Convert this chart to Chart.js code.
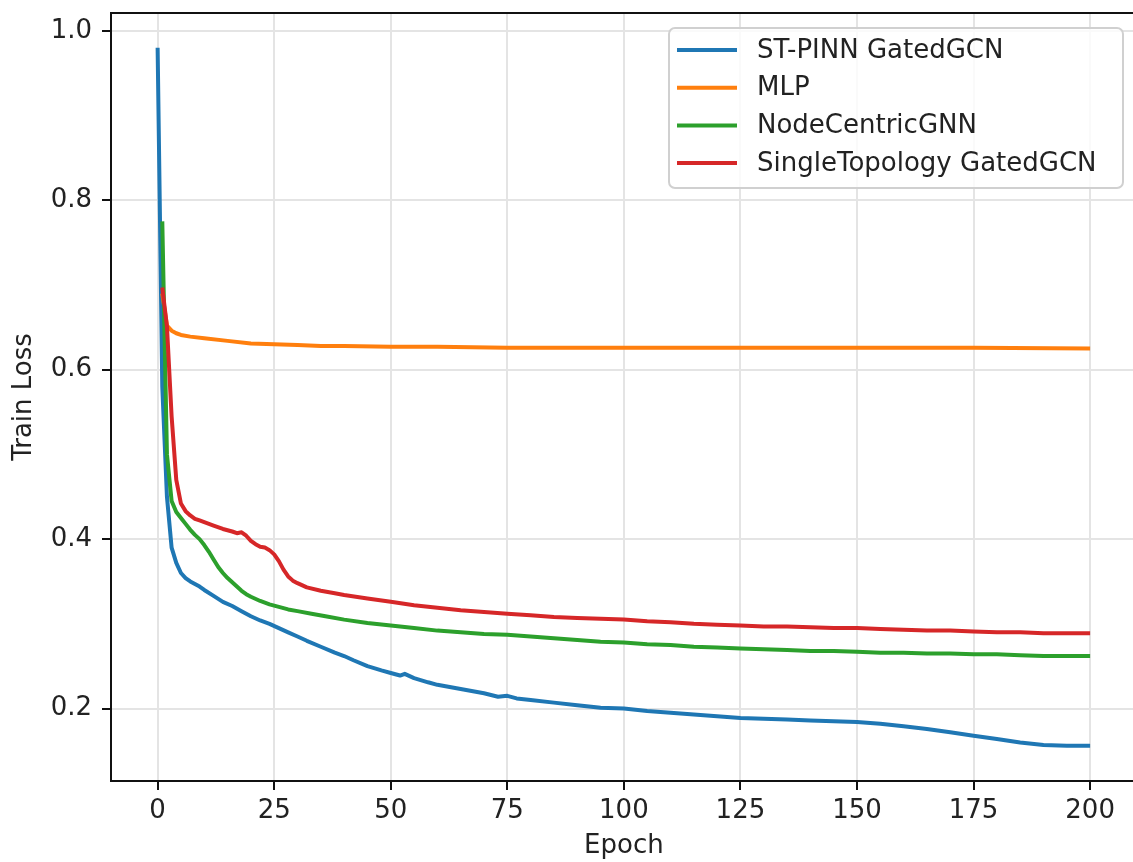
<!DOCTYPE html>
<html>
<head>
<meta charset="utf-8">
<title>Train Loss</title>
<script src="https://cdn.jsdelivr.net/npm/chart.js@4"></script>
<style>
  html, body { margin: 0; padding: 0; background: #fff; overflow: hidden; }
  #chart { display: block; }
</style>
</head>
<body>
<canvas id="chart" width="1133" height="862"></canvas>
<script>
// values
const seriesNames = ['ST-PINN GatedGCN', 'MLP', 'NodeCentricGNN', 'SingleTopology GatedGCN'];
const seriesColors = ['#1f77b4', '#ff7f0e', '#2ca02c', '#d62728'];

const xTicks = [0, 25, 50, 75, 100, 125, 150, 175, 200];
const yTicks = [0.2, 0.4, 0.6, 0.8, 1.0];

const stpinnEpochs = [0, 1, 2, 3, 4, 5, 6, 7, 8, 9, 10, 12, 14, 16, 18, 20, 22, 24, 26, 28, 30, 32, 35, 38, 40, 42, 45, 48, 50, 52, 53, 55, 58, 60, 65, 70, 73, 75, 77, 80, 85, 90, 95, 100, 105, 110, 115, 120, 125, 130, 135, 140, 145, 150, 155, 160, 165, 170, 175, 180, 185, 190, 195, 200];
const stpinnLoss = [0.980, 0.580, 0.450, 0.390, 0.372, 0.360, 0.354, 0.350, 0.347, 0.344, 0.340, 0.333, 0.326, 0.321, 0.315, 0.309, 0.304, 0.300, 0.295, 0.290, 0.285, 0.280, 0.273, 0.266, 0.262, 0.257, 0.250, 0.245, 0.242, 0.239, 0.241, 0.236, 0.231, 0.228, 0.223, 0.218, 0.214, 0.215, 0.212, 0.210, 0.207, 0.204, 0.201, 0.200, 0.197, 0.195, 0.193, 0.191, 0.189, 0.188, 0.187, 0.186, 0.185, 0.184, 0.182, 0.179, 0.176, 0.172, 0.168, 0.164, 0.160, 0.157, 0.156, 0.156];

const mlpEpochs = [1, 2, 3, 4, 5, 7, 10, 15, 20, 25, 30, 35, 40, 50, 60, 75, 100, 125, 150, 175, 200];
const mlpLoss = [0.690, 0.652, 0.646, 0.643, 0.641, 0.639, 0.637, 0.634, 0.631, 0.630, 0.629, 0.628, 0.628, 0.627, 0.627, 0.626, 0.626, 0.626, 0.626, 0.626, 0.625];

const nodeEpochs = [1, 2, 3, 4, 5, 6, 7, 8, 9, 10, 11, 12, 13, 14, 15, 16, 17, 18, 19, 20, 22, 24, 26, 28, 30, 33, 36, 40, 45, 50, 55, 60, 65, 70, 75, 80, 85, 90, 95, 100, 105, 110, 115, 120, 125, 130, 135, 140, 145, 150, 155, 160, 165, 170, 175, 180, 185, 190, 195, 200];
const nodeLoss = [0.775, 0.500, 0.445, 0.432, 0.425, 0.418, 0.411, 0.405, 0.400, 0.393, 0.385, 0.376, 0.367, 0.360, 0.354, 0.349, 0.344, 0.339, 0.335, 0.332, 0.327, 0.323, 0.320, 0.317, 0.315, 0.312, 0.309, 0.305, 0.301, 0.298, 0.295, 0.292, 0.290, 0.288, 0.287, 0.285, 0.283, 0.281, 0.279, 0.278, 0.276, 0.275, 0.273, 0.272, 0.271, 0.270, 0.269, 0.268, 0.268, 0.267, 0.266, 0.266, 0.265, 0.265, 0.264, 0.264, 0.263, 0.262, 0.262, 0.262];

const singleEpochs = [1, 2, 3, 4, 5, 6, 7, 8, 9, 10, 12, 14, 16, 17, 18, 19, 20, 21, 22, 23, 24, 25, 26, 27, 28, 29, 30, 32, 35, 38, 40, 45, 50, 55, 60, 65, 70, 75, 80, 85, 90, 95, 100, 105, 110, 115, 120, 125, 130, 135, 140, 145, 150, 155, 160, 165, 170, 175, 180, 185, 190, 195, 200];
const singleLoss = [0.697, 0.651, 0.545, 0.470, 0.442, 0.433, 0.428, 0.424, 0.422, 0.420, 0.416, 0.412, 0.409, 0.407, 0.408, 0.404, 0.398, 0.394, 0.391, 0.390, 0.387, 0.382, 0.374, 0.364, 0.356, 0.351, 0.348, 0.343, 0.339, 0.336, 0.334, 0.330, 0.326, 0.322, 0.319, 0.316, 0.314, 0.312, 0.310, 0.308, 0.307, 0.306, 0.305, 0.303, 0.302, 0.300, 0.299, 0.298, 0.297, 0.297, 0.296, 0.295, 0.295, 0.294, 0.293, 0.292, 0.292, 0.291, 0.290, 0.290, 0.289, 0.289, 0.289];

const allEpochs = [stpinnEpochs, mlpEpochs, nodeEpochs, singleEpochs];
const allLoss = [stpinnLoss, mlpLoss, nodeLoss, singleLoss];

const FONT = 'DejaVu Sans';
const TEXT = '#222222';

const datasets = seriesNames.map((name, i) => ({
    label: name,
    data: allEpochs[i].map((e, j) => ({ x: e, y: allLoss[i][j] })),
    borderColor: seriesColors[i],
    backgroundColor: seriesColors[i],
    borderWidth: 4,
    pointRadius: 0,
    tension: 0,
    borderJoinStyle: 'round',
    order: seriesNames.length - i
}));

// left, top and bottom spines; the right one is cut off in the original figure
const frame = {
    id: 'frame',
    afterDatasetsDraw(chart) {
        const { ctx, chartArea: a } = chart;
        ctx.save();
        ctx.strokeStyle = '#111';
        ctx.lineWidth = 2;
        ctx.beginPath();
        ctx.moveTo(a.right + 2, a.top);
        ctx.lineTo(a.left, a.top);
        ctx.lineTo(a.left, a.bottom);
        ctx.lineTo(a.right + 2, a.bottom);
        ctx.stroke();
        ctx.restore();
    }
};

// legend box in the upper right corner of the axes
const legendBox = {
    id: 'legendBox',
    afterDraw(chart) {
        const { ctx, chartArea: a } = chart;
        const w = 454, h = 160;
        const x = a.right - 10 - w, y = a.top + 15;
        ctx.save();
        ctx.beginPath();
        ctx.roundRect(x, y, w, h, 6);
        ctx.fillStyle = 'rgba(255,255,255,0.8)';
        ctx.fill();
        ctx.strokeStyle = '#d0d0d0';
        ctx.lineWidth = 2;
        ctx.stroke();
        ctx.font = '26px "' + FONT + '"';
        ctx.textBaseline = 'middle';
        ctx.textAlign = 'left';
        seriesNames.forEach((name, i) => {
            const cy = y + 22 + i * 37.7;
            ctx.beginPath();
            ctx.moveTo(x + 8, cy);
            ctx.lineTo(x + 68, cy);
            ctx.strokeStyle = seriesColors[i];
            ctx.lineWidth = 4;
            ctx.stroke();
            ctx.fillStyle = TEXT;
            ctx.fillText(name, x + 88, cy + 1);
        });
        ctx.restore();
    }
};

// x title centred on the full (uncropped) axes width, as in the original
const xTitle = {
    id: 'xTitle',
    afterDraw(chart) {
        const { ctx } = chart;
        ctx.save();
        ctx.font = '26px "' + FONT + '"';
        ctx.fillStyle = TEXT;
        ctx.textAlign = 'center';
        ctx.textBaseline = 'middle';
        ctx.fillText('Epoch', chart.scales.x.getPixelForValue(100), 846);
        ctx.restore();
    }
};

new Chart(document.getElementById('chart'), {
    type: 'line',
    data: { datasets },
    options: {
        responsive: false,
        animation: false,
        devicePixelRatio: 1,
        layout: { autoPadding: false, padding: { top: 13, right: 0, left: 0, bottom: 0 } },
        plugins: { legend: { display: false }, tooltip: { enabled: false } },
        scales: {
            x: {
                type: 'linear',
                min: -10,
                max: 209.2,
                afterBuildTicks: s => { s.ticks = xTicks.map(v => ({ value: v })); },
                afterFit: s => { s.height = 81; s.paddingLeft = 0; s.paddingRight = 0; },
                ticks: {
                    autoSkip: false,
                    maxRotation: 0,
                    padding: 6,
                    color: TEXT,
                    font: { family: FONT, size: 26 },
                    callback: v => String(v)
                },
                grid: { color: '#e4e4e4', lineWidth: 2, tickLength: 9, tickColor: '#111', tickWidth: 2 },
                border: { display: false },
                title: { display: false }
            },
            y: {
                min: 0.1145,
                max: 1.021,
                afterBuildTicks: s => { s.ticks = yTicks.map(v => ({ value: v })); },
                afterFit: s => { s.width = 111; s.paddingTop = 0; s.paddingBottom = 0; },
                ticks: {
                    padding: 10,
                    color: TEXT,
                    font: { family: FONT, size: 26 },
                    callback: v => Number(v).toFixed(1)
                },
                grid: { color: '#e4e4e4', lineWidth: 2, tickLength: 9, tickColor: '#111', tickWidth: 2 },
                border: { display: false },
                title: { display: true, text: 'Train Loss', color: TEXT, font: { family: FONT, size: 26 }, padding: { top: 9, bottom: 0 } }
            }
        }
    },
    plugins: [frame, legendBox, xTitle]
});
</script>
</body>
</html>
